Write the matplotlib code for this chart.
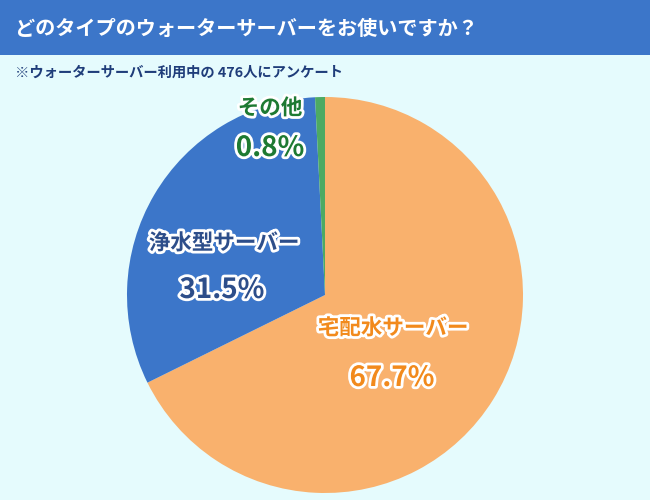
import matplotlib
matplotlib.use("Agg")
from matplotlib import pyplot as plt
from matplotlib import patheffects as pe

plt.rcParams["font.family"] = ["Noto Sans CJK JP", "DejaVu Sans"]

# Data
labels = ["宅配水サーバー", "浄水型サーバー", "その他"]
shares = [67.7, 31.5, 0.8]
colors = ["#F9B16D", "#3C76C9", "#4DAA63"]
text_colors = ["#F28A1C", "#2D4E8A", "#1E7A32"]
title = "どのタイプのウォーターサーバーをお使いですか？"
subtitle = "※ウォーターサーバー利用中の 476人にアンケート"

W, H = 650, 500
fig = plt.figure(figsize=(W / 100, H / 100), dpi=100)
fig.patch.set_facecolor("#E5FBFD")

# Header bar
fig.patches.append(plt.Rectangle((0, 1 - 55 / H), 1, 55 / H, transform=fig.transFigure,
                                 facecolor="#3C76C9", edgecolor="none", zorder=0))
fig.text(15 / W, 1 - 28 / H, title, color="white", fontsize=14.5, fontweight="bold",
         va="center", ha="left")
fig.text(15 / W, 1 - 73 / H, subtitle, color="#1F3D7A", fontsize=10.3, fontweight="bold",
         va="center", ha="left")

# Pie
cx, cy, r = 325, 295, 198
ax = fig.add_axes([(cx - r) / W, (H - cy - r) / H, 2 * r / W, 2 * r / H])
ax.pie(shares, colors=colors, startangle=90, counterclock=False,
       wedgeprops=dict(edgecolor="none", linewidth=0))
ax.set_xlim(-1, 1)
ax.set_ylim(-1, 1)
ax.set_aspect("equal")
ax.axis("off")

stroke = [pe.withStroke(linewidth=4, foreground="white")]
# label positions in pixels (name, value)
pos = [((393, 328), (392, 378)), ((224, 243), (222, 290)), ((270, 108), (270, 148))]
for lab, val, tc, (p1, p2) in zip(labels, shares, text_colors, pos):
    fig.text(p1[0] / W, 1 - p1[1] / H, lab, color=tc, fontsize=15.5, fontweight="bold",
             ha="center", va="center", path_effects=stroke)
    fig.text(p2[0] / W, 1 - p2[1] / H, f"{val}%", color=tc, fontsize=20, fontweight="bold",
             ha="center", va="center", path_effects=stroke)

fig.savefig("out.png", dpi=100, facecolor=fig.get_facecolor())
